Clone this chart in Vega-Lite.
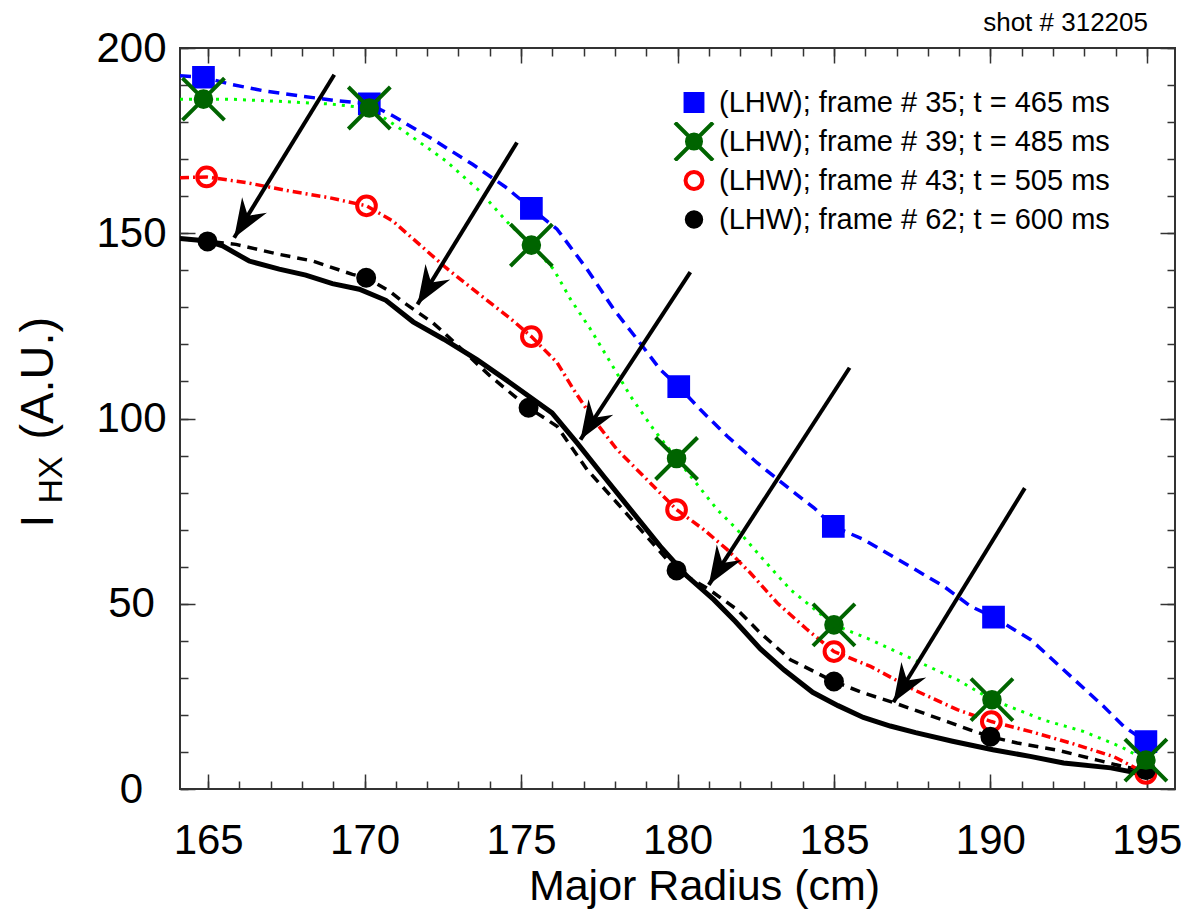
{
  "$schema": "https://vega.github.io/schema/vega-lite/v6.json",
  "width": 995,
  "height": 741,
  "autosize": "none",
  "padding": {"left": 180, "top": 48, "right": 13, "bottom": 127},
  "background": "white",
  "title": {"text": "shot # 312205", "anchor": "end", "frame": "group", "fontSize": 26, "font": "Liberation Sans", "fontWeight": "normal", "color": "black", "dx": -27, "dy": 52, "offset": 17, "baseline": "bottom"},
  "config": {
    "view": {"stroke": "#333333", "strokeWidth": 2},
    "axis": {"domain": false, "grid": false, "tickColor": "#333333", "tickWidth": 1.5, "labelFont": "Liberation Sans", "labelColor": "black", "titleFont": "Liberation Sans", "titleFontWeight": "normal", "titleColor": "black", "labelFlush": false, "labelOverlap": false},
    "legend": {"orient": "none", "legendX": 493, "legendY": 35, "title": null, "labelFont": "Liberation Sans", "labelFontSize": 29, "labelColor": "black", "symbolSize": 1444, "symbolStrokeWidth": 4, "labelOffset": 4, "clipHeight": 39, "rowPadding": 0, "padding": 0, "labelLimit": 0}
  },
  "datasets": {
    "profiles": [
      {"series": "f35", "r": 164.1, "v": 192.5}, {"series": "f35", "r": 164.85, "v": 192.1}, {"series": "f35", "r": 165.67, "v": 190.3}, {"series": "f35", "r": 166.74, "v": 188.5}, {"series": "f35", "r": 167.9, "v": 187.1}, {"series": "f35", "r": 169.08, "v": 185.8}, {"series": "f35", "r": 170.15, "v": 184.9}, {"series": "f35", "r": 170.9, "v": 181.7}, {"series": "f35", "r": 172.17, "v": 175.4}, {"series": "f35", "r": 173.45, "v": 168.6}, {"series": "f35", "r": 174.5, "v": 162.5}, {"series": "f35", "r": 175.33, "v": 156.7}, {"series": "f35", "r": 176.15, "v": 151.1}, {"series": "f35", "r": 177.11, "v": 140.3}, {"series": "f35", "r": 177.96, "v": 129.5}, {"series": "f35", "r": 178.71, "v": 121.4}, {"series": "f35", "r": 179.45, "v": 113.2}, {"series": "f35", "r": 180.04, "v": 108.6}, {"series": "f35", "r": 180.73, "v": 102.4}, {"series": "f35", "r": 181.59, "v": 95.2}, {"series": "f35", "r": 182.55, "v": 88.0}, {"series": "f35", "r": 183.61, "v": 80.8}, {"series": "f35", "r": 184.36, "v": 75.9}, {"series": "f35", "r": 184.98, "v": 70.9}, {"series": "f35", "r": 185.96, "v": 67.3}, {"series": "f35", "r": 187.24, "v": 61.0}, {"series": "f35", "r": 188.51, "v": 54.7}, {"series": "f35", "r": 189.37, "v": 49.3}, {"series": "f35", "r": 190.1, "v": 46.4}, {"series": "f35", "r": 191.29, "v": 40.3}, {"series": "f35", "r": 192.57, "v": 30.4}, {"series": "f35", "r": 193.63, "v": 22.2}, {"series": "f35", "r": 194.27, "v": 16.8}, {"series": "f35", "r": 194.97, "v": 12.8},
      {"series": "f39", "r": 164.1, "v": 186.2}, {"series": "f39", "r": 164.85, "v": 186.2}, {"series": "f39", "r": 165.67, "v": 186.2}, {"series": "f39", "r": 167.27, "v": 185.6}, {"series": "f39", "r": 168.87, "v": 184.9}, {"series": "f39", "r": 170.15, "v": 183.8}, {"series": "f39", "r": 171.32, "v": 177.2}, {"series": "f39", "r": 172.6, "v": 169.5}, {"series": "f39", "r": 173.67, "v": 161.4}, {"series": "f39", "r": 174.63, "v": 152.4}, {"series": "f39", "r": 175.33, "v": 146.8}, {"series": "f39", "r": 176.04, "v": 140.3}, {"series": "f39", "r": 176.58, "v": 132.2}, {"series": "f39", "r": 177.22, "v": 124.1}, {"series": "f39", "r": 177.86, "v": 115.1}, {"series": "f39", "r": 178.5, "v": 106.0}, {"series": "f39", "r": 179.24, "v": 97.0}, {"series": "f39", "r": 179.97, "v": 89.2}, {"series": "f39", "r": 181.27, "v": 75.4}, {"series": "f39", "r": 181.91, "v": 70.0}, {"series": "f39", "r": 182.65, "v": 62.8}, {"series": "f39", "r": 183.61, "v": 53.8}, {"series": "f39", "r": 185.0, "v": 44.3}, {"series": "f39", "r": 186.17, "v": 40.3}, {"series": "f39", "r": 187.55, "v": 34.9}, {"series": "f39", "r": 188.94, "v": 29.5}, {"series": "f39", "r": 190.05, "v": 24.1}, {"series": "f39", "r": 191.71, "v": 18.6}, {"series": "f39", "r": 192.99, "v": 15.5}, {"series": "f39", "r": 194.17, "v": 11.4}, {"series": "f39", "r": 194.97, "v": 7.8},
      {"series": "f43", "r": 164.1, "v": 165.0}, {"series": "f43", "r": 164.95, "v": 165.2}, {"series": "f43", "r": 166.2, "v": 163.7}, {"series": "f43", "r": 167.6, "v": 161.4}, {"series": "f43", "r": 168.87, "v": 159.6}, {"series": "f43", "r": 170.06, "v": 157.4}, {"series": "f43", "r": 170.9, "v": 153.3}, {"series": "f43", "r": 171.75, "v": 147.0}, {"series": "f43", "r": 172.6, "v": 140.7}, {"series": "f43", "r": 173.67, "v": 133.5}, {"series": "f43", "r": 174.63, "v": 127.2}, {"series": "f43", "r": 175.33, "v": 122.1}, {"series": "f43", "r": 176.15, "v": 115.1}, {"series": "f43", "r": 176.68, "v": 107.8}, {"series": "f43", "r": 177.32, "v": 99.7}, {"series": "f43", "r": 178.07, "v": 91.6}, {"series": "f43", "r": 179.13, "v": 82.6}, {"series": "f43", "r": 179.97, "v": 75.4}, {"series": "f43", "r": 180.84, "v": 70.0}, {"series": "f43", "r": 181.59, "v": 64.6}, {"series": "f43", "r": 182.33, "v": 58.3}, {"series": "f43", "r": 183.19, "v": 50.2}, {"series": "f43", "r": 184.15, "v": 43.0}, {"series": "f43", "r": 185.0, "v": 37.1}, {"series": "f43", "r": 186.17, "v": 33.1}, {"series": "f43", "r": 187.55, "v": 26.8}, {"series": "f43", "r": 188.94, "v": 21.4}, {"series": "f43", "r": 190.03, "v": 18.2}, {"series": "f43", "r": 191.29, "v": 15.5}, {"series": "f43", "r": 192.57, "v": 12.4}, {"series": "f43", "r": 193.95, "v": 8.7}, {"series": "f43", "r": 194.97, "v": 4.2},
      {"series": "f62", "r": 164.1, "v": 148.6}, {"series": "f62", "r": 164.98, "v": 147.8}, {"series": "f62", "r": 165.89, "v": 147.0}, {"series": "f62", "r": 167.27, "v": 144.3}, {"series": "f62", "r": 168.34, "v": 142.5}, {"series": "f62", "r": 169.61, "v": 138.9}, {"series": "f62", "r": 170.05, "v": 138.0}, {"series": "f62", "r": 170.79, "v": 134.4}, {"series": "f62", "r": 171.25, "v": 131.3}, {"series": "f62", "r": 172.17, "v": 125.9}, {"series": "f62", "r": 172.53, "v": 123.2}, {"series": "f62", "r": 174.02, "v": 111.4}, {"series": "f62", "r": 175.24, "v": 102.9}, {"series": "f62", "r": 176.15, "v": 97.9}, {"series": "f62", "r": 177.11, "v": 86.2}, {"series": "f62", "r": 178.07, "v": 77.2}, {"series": "f62", "r": 178.82, "v": 70.0}, {"series": "f62", "r": 179.97, "v": 59.0}, {"series": "f62", "r": 180.95, "v": 54.2}, {"series": "f62", "r": 181.91, "v": 48.4}, {"series": "f62", "r": 182.65, "v": 42.1}, {"series": "f62", "r": 183.61, "v": 34.9}, {"series": "f62", "r": 185.0, "v": 29.0}, {"series": "f62", "r": 185.95, "v": 25.9}, {"series": "f62", "r": 186.81, "v": 23.6}, {"series": "f62", "r": 187.55, "v": 21.4}, {"series": "f62", "r": 188.62, "v": 18.2}, {"series": "f62", "r": 189.37, "v": 15.9}, {"series": "f62", "r": 190.0, "v": 14.1}, {"series": "f62", "r": 190.86, "v": 12.4}, {"series": "f62", "r": 192.14, "v": 10.5}, {"series": "f62", "r": 193.42, "v": 7.8}, {"series": "f62", "r": 194.27, "v": 6.0}, {"series": "f62", "r": 194.97, "v": 5.1},
      {"series": "solid", "r": 164.1, "v": 148.6}, {"series": "solid", "r": 164.98, "v": 147.9}, {"series": "solid", "r": 165.46, "v": 146.6}, {"series": "solid", "r": 166.31, "v": 142.5}, {"series": "solid", "r": 167.27, "v": 140.3}, {"series": "solid", "r": 168.12, "v": 138.7}, {"series": "solid", "r": 168.97, "v": 136.4}, {"series": "solid", "r": 169.83, "v": 134.9}, {"series": "solid", "r": 170.68, "v": 131.9}, {"series": "solid", "r": 171.55, "v": 126.1}, {"series": "solid", "r": 172.53, "v": 121.4}, {"series": "solid", "r": 173.59, "v": 115.9}, {"series": "solid", "r": 174.66, "v": 109.6}, {"series": "solid", "r": 175.99, "v": 101.5}, {"series": "solid", "r": 176.79, "v": 93.4}, {"series": "solid", "r": 177.64, "v": 84.4}, {"series": "solid", "r": 178.5, "v": 75.4}, {"series": "solid", "r": 179.45, "v": 65.5}, {"series": "solid", "r": 180.31, "v": 57.4}, {"series": "solid", "r": 181.16, "v": 51.1}, {"series": "solid", "r": 181.85, "v": 45.2}, {"series": "solid", "r": 182.65, "v": 37.8}, {"series": "solid", "r": 183.41, "v": 32.1}, {"series": "solid", "r": 184.32, "v": 26.1}, {"series": "solid", "r": 185.13, "v": 22.5}, {"series": "solid", "r": 185.94, "v": 19.3}, {"series": "solid", "r": 186.8, "v": 17.0}, {"series": "solid", "r": 187.61, "v": 15.2}, {"series": "solid", "r": 188.79, "v": 12.9}, {"series": "solid", "r": 190.08, "v": 10.6}, {"series": "solid", "r": 191.27, "v": 8.8}, {"series": "solid", "r": 192.34, "v": 7.0}, {"series": "solid", "r": 193.85, "v": 5.7}, {"series": "solid", "r": 195.03, "v": 3.8}
    ],
    "points": [
      {"series": "(LHW); frame # 35; t = 465 ms", "r": 164.85, "v": 192.1}, {"series": "(LHW); frame # 35; t = 465 ms", "r": 170.15, "v": 184.9}, {"series": "(LHW); frame # 35; t = 465 ms", "r": 175.33, "v": 156.7}, {"series": "(LHW); frame # 35; t = 465 ms", "r": 180.04, "v": 108.6}, {"series": "(LHW); frame # 35; t = 465 ms", "r": 184.98, "v": 70.9}, {"series": "(LHW); frame # 35; t = 465 ms", "r": 190.1, "v": 46.4}, {"series": "(LHW); frame # 35; t = 465 ms", "r": 194.97, "v": 12.8},
      {"series": "(LHW); frame # 43; t = 505 ms", "r": 164.95, "v": 165.2}, {"series": "(LHW); frame # 43; t = 505 ms", "r": 170.06, "v": 157.4}, {"series": "(LHW); frame # 43; t = 505 ms", "r": 175.33, "v": 122.1}, {"series": "(LHW); frame # 43; t = 505 ms", "r": 179.97, "v": 75.4}, {"series": "(LHW); frame # 43; t = 505 ms", "r": 185.0, "v": 37.1}, {"series": "(LHW); frame # 43; t = 505 ms", "r": 190.03, "v": 18.2}, {"series": "(LHW); frame # 43; t = 505 ms", "r": 194.97, "v": 4.2},
      {"series": "(LHW); frame # 62; t = 600 ms", "r": 164.98, "v": 147.8}, {"series": "(LHW); frame # 62; t = 600 ms", "r": 170.05, "v": 138.0}, {"series": "(LHW); frame # 62; t = 600 ms", "r": 175.24, "v": 102.9}, {"series": "(LHW); frame # 62; t = 600 ms", "r": 179.97, "v": 59.0}, {"series": "(LHW); frame # 62; t = 600 ms", "r": 185.0, "v": 29.0}, {"series": "(LHW); frame # 62; t = 600 ms", "r": 190.0, "v": 14.1}, {"series": "(LHW); frame # 62; t = 600 ms", "r": 194.97, "v": 5.1},
      {"series": "(LHW); frame # 39; t = 485 ms", "r": 164.85, "v": 186.2}, {"series": "(LHW); frame # 39; t = 485 ms", "r": 170.15, "v": 183.8}, {"series": "(LHW); frame # 39; t = 485 ms", "r": 175.33, "v": 146.8}, {"series": "(LHW); frame # 39; t = 485 ms", "r": 179.97, "v": 89.2}, {"series": "(LHW); frame # 39; t = 485 ms", "r": 185.0, "v": 44.3}, {"series": "(LHW); frame # 39; t = 485 ms", "r": 190.05, "v": 24.1}, {"series": "(LHW); frame # 39; t = 485 ms", "r": 194.97, "v": 7.8}
    ],
    "arrows": [
      {"r1": 169.03, "v1": 192.8, "r2": 165.83, "v2": 148.8},
      {"r1": 174.87, "v1": 174.5, "r2": 171.69, "v2": 130.8},
      {"r1": 180.41, "v1": 139.5, "r2": 176.9, "v2": 94.3},
      {"r1": 185.5, "v1": 113.7, "r2": 181.0, "v2": 55.1},
      {"r1": 191.1, "v1": 81.2, "r2": 186.9, "v2": 23.4}
    ]
  },
  "resolve": {"axis": {"x": "independent", "y": "independent"}},
  "layer": [
    {
      "data": {"name": "profiles"},
      "transform": [{"filter": "datum.series === 'solid'"}],
      "mark": {"type": "line", "color": "black", "strokeWidth": 5, "clip": true},
      "encoding": {
        "x": {"field": "r", "type": "quantitative", "scale": {"domain": [164.1, 195.9], "nice": false, "zero": false},
          "axis": {"orient": "bottom", "values": [165, 170, 175, 180, 185, 190, 195], "format": "d", "tickSize": -15, "labelPadding": 46, "labelFontSize": 42, "title": "Major Radius (cm)", "titleFontSize": 43, "titleX": 524, "titleY": 110, "titleAlign": "center", "titleBaseline": "alphabetic"}},
        "y": {"field": "v", "type": "quantitative", "scale": {"domain": [0, 200], "nice": false, "zero": false},
          "axis": {"orient": "left", "values": [0, 50, 100, 150, 200], "format": "d", "tickSize": -15, "labelPadding": 64, "labelAlign": "center", "labelBaseline": "middle", "labelFontSize": 42, "title": "I", "titleFontSize": 46, "titleAngle": 270, "titleX": -128, "titleY": 479, "titleAlign": "left", "titleBaseline": "alphabetic"}}
      }
    },
    {
      "data": {"name": "profiles"},
      "transform": [{"filter": "datum.series === 'f62'"}],
      "mark": {"type": "line", "color": "black", "strokeWidth": 3.5, "strokeDash": [10, 7], "clip": true},
      "encoding": {
        "x": {"field": "r", "type": "quantitative", "scale": {"domain": [164.1, 195.9], "nice": false, "zero": false},
          "axis": {"orient": "bottom", "values": [165, 166, 167, 168, 169, 170, 171, 172, 173, 174, 175, 176, 177, 178, 179, 180, 181, 182, 183, 184, 185, 186, 187, 188, 189, 190, 191, 192, 193, 194, 195], "tickSize": -8, "labels": false, "title": null}},
        "y": {"field": "v", "type": "quantitative", "scale": {"domain": [0, 200], "nice": false, "zero": false},
          "axis": {"orient": "left", "values": [0, 10, 20, 30, 40, 50, 60, 70, 80, 90, 100, 110, 120, 130, 140, 150, 160, 170, 180, 190, 200], "tickSize": -8, "labels": false, "title": "HX", "titleFontSize": 34, "titleAngle": 270, "titleX": -119, "titleY": 455, "titleAlign": "left", "titleBaseline": "alphabetic"}}
      }
    },
    {
      "data": {"name": "profiles"},
      "transform": [{"filter": "datum.series === 'f35'"}],
      "mark": {"type": "line", "color": "#0000ff", "strokeWidth": 3.5, "strokeDash": [11, 7], "clip": true},
      "encoding": {
        "x": {"field": "r", "type": "quantitative", "scale": {"domain": [164.1, 195.9], "nice": false, "zero": false},
          "axis": {"orient": "top", "values": [165, 170, 175, 180, 185, 190, 195], "tickSize": -15, "labels": false, "title": null}},
        "y": {"field": "v", "type": "quantitative", "scale": {"domain": [0, 200], "nice": false, "zero": false},
          "axis": {"orient": "right", "values": [0, 50, 100, 150, 200], "tickSize": -15, "labels": false, "title": "(A.U.)", "titleFontSize": 47, "titleAngle": 270, "titleX": -1123, "titleY": 391, "titleAlign": "left", "titleBaseline": "alphabetic"}}
      }
    },
    {
      "data": {"name": "profiles"},
      "transform": [{"filter": "datum.series === 'f39'"}],
      "mark": {"type": "line", "color": "#00ff00", "strokeWidth": 3, "strokeDash": [3, 6], "clip": true},
      "encoding": {
        "x": {"field": "r", "type": "quantitative", "scale": {"domain": [164.1, 195.9], "nice": false, "zero": false},
          "axis": {"orient": "top", "values": [165, 166, 167, 168, 169, 170, 171, 172, 173, 174, 175, 176, 177, 178, 179, 180, 181, 182, 183, 184, 185, 186, 187, 188, 189, 190, 191, 192, 193, 194, 195], "tickSize": -8, "labels": false, "title": null}},
        "y": {"field": "v", "type": "quantitative", "scale": {"domain": [0, 200], "nice": false, "zero": false},
          "axis": {"orient": "right", "values": [0, 10, 20, 30, 40, 50, 60, 70, 80, 90, 100, 110, 120, 130, 140, 150, 160, 170, 180, 190, 200], "tickSize": -8, "labels": false, "title": null}}
      }
    },
    {
      "data": {"name": "profiles"},
      "transform": [{"filter": "datum.series === 'f43'"}],
      "mark": {"type": "line", "color": "#ff0000", "strokeWidth": 3.5, "strokeDash": [9, 4, 2, 4], "clip": true},
      "encoding": {
        "x": {"field": "r", "type": "quantitative", "scale": {"domain": [164.1, 195.9], "nice": false, "zero": false}, "axis": null},
        "y": {"field": "v", "type": "quantitative", "scale": {"domain": [0, 200], "nice": false, "zero": false}, "axis": null}
      }
    },
    {
      "data": {"name": "arrows"},
      "mark": {"type": "rule", "color": "black", "strokeWidth": 4},
      "encoding": {
        "x": {"field": "r1", "type": "quantitative", "scale": {"domain": [164.1, 195.9], "nice": false, "zero": false}, "axis": null},
        "y": {"field": "v1", "type": "quantitative", "scale": {"domain": [0, 200], "nice": false, "zero": false}, "axis": null},
        "x2": {"field": "r2"},
        "y2": {"field": "v2"}
      }
    },
    {
      "data": {"name": "arrows"},
      "mark": {"type": "point", "shape": "M0,0L0.38,1L0,0.67L-0.38,1Z", "size": 5929, "angle": 212, "filled": true, "color": "black", "opacity": 1, "strokeWidth": 0},
      "encoding": {
        "x": {"field": "r2", "type": "quantitative", "scale": {"domain": [164.1, 195.9], "nice": false, "zero": false}, "axis": null},
        "y": {"field": "v2", "type": "quantitative", "scale": {"domain": [0, 200], "nice": false, "zero": false}, "axis": null}
      }
    },
    {
      "data": {"name": "points"},
      "mark": {"type": "point", "size": 1764, "strokeWidth": 4, "opacity": 1},
      "encoding": {
        "x": {"field": "r", "type": "quantitative", "scale": {"domain": [164.1, 195.9], "nice": false, "zero": false}, "axis": null},
        "y": {"field": "v", "type": "quantitative", "scale": {"domain": [0, 200], "nice": false, "zero": false}, "axis": null},
        "shape": {"field": "series", "type": "nominal", "scale": {"domain": ["(LHW); frame # 35; t = 465 ms", "(LHW); frame # 39; t = 485 ms", "(LHW); frame # 43; t = 505 ms", "(LHW); frame # 62; t = 600 ms"], "range": ["M-0.445,-0.445H0.445V0.445H-0.445Z", "M-1,-1L1,1M-1,1L1,-1M0.37,0A0.37,0.37,0,1,1,-0.37,0A0.37,0.37,0,1,1,0.37,0Z", "M0.445,0A0.445,0.445,0,1,1,-0.445,0A0.445,0.445,0,1,1,0.445,0Z", "M0.38,0A0.38,0.38,0,1,1,-0.38,0A0.38,0.38,0,1,1,0.38,0Z"]}},
        "fill": {"field": "series", "type": "nominal", "scale": {"domain": ["(LHW); frame # 35; t = 465 ms", "(LHW); frame # 39; t = 485 ms", "(LHW); frame # 43; t = 505 ms", "(LHW); frame # 62; t = 600 ms"], "range": ["#0000ff", "#006400", "transparent", "#000000"]}},
        "stroke": {"field": "series", "type": "nominal", "scale": {"domain": ["(LHW); frame # 35; t = 465 ms", "(LHW); frame # 39; t = 485 ms", "(LHW); frame # 43; t = 505 ms", "(LHW); frame # 62; t = 600 ms"], "range": ["#0000ff", "#006400", "#ff0000", "#000000"]}}
      }
    }
  ]
}
